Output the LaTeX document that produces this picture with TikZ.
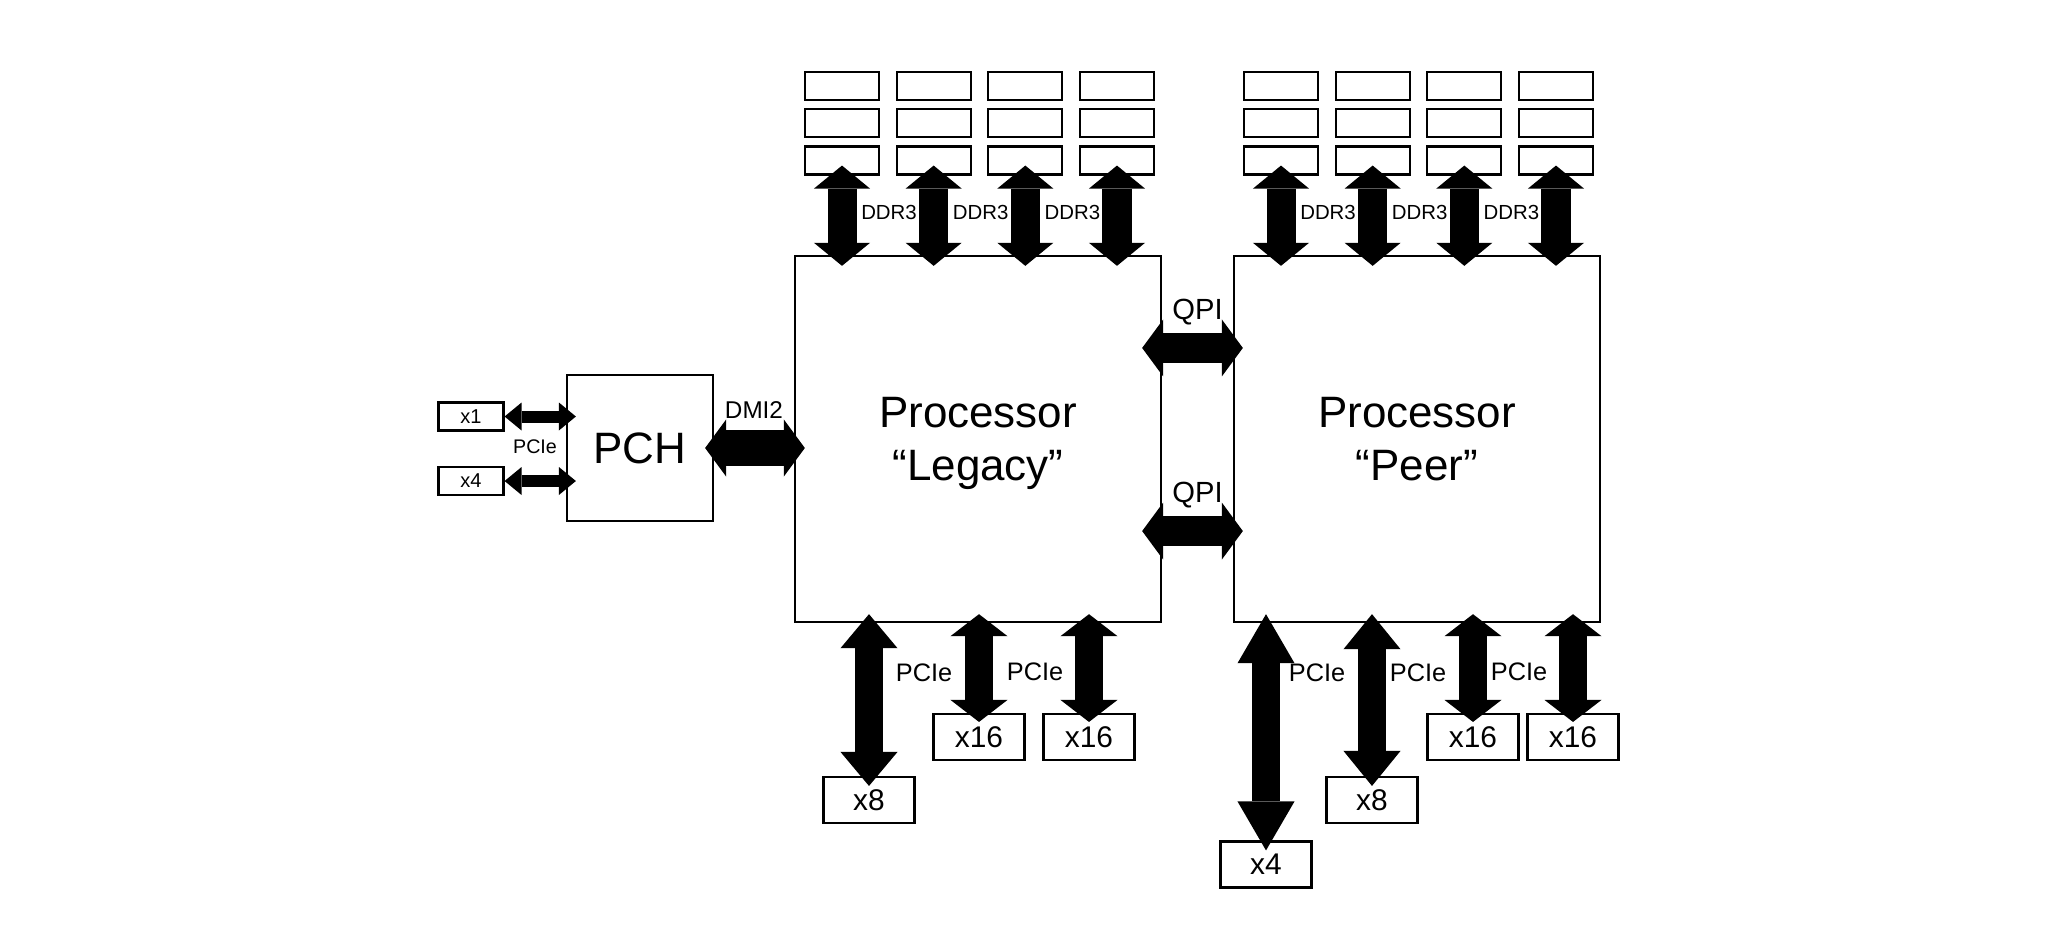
\documentclass[tikz,border=0pt]{standalone}
\usepackage{fontspec}
\setmainfont{Liberation Sans}
\usetikzlibrary{positioning,arrows.meta}

\begin{document}
\begin{tikzpicture}[x=0.01cm,y=-0.01cm,node distance=0.07cm]
  \useasboundingbox (0,0) rectangle (2048,951);
  \tikzset{
    processor/.style={rectangle,draw=black,line width=0.6pt,minimum width=3.66cm,minimum height=3.66cm,align=center,text depth=0pt,font=\fontsize{12.5}{15}\selectfont},
    hub/.style={rectangle,draw=black,line width=0.6pt,minimum width=1.46cm,minimum height=1.46cm,font=\fontsize{12.5}{15}\selectfont},
    dimm/.style={rectangle,draw=black,line width=0.6pt,minimum width=0.74cm,minimum height=0.28cm,inner sep=0pt},
    slot/.style={rectangle,draw=black,line width=0.6pt,minimum width=0.91cm,minimum height=0.46cm,inner sep=0pt,font=\fontsize{8.5}{10}\selectfont},
    smallSlot/.style={rectangle,draw=black,line width=0.6pt,minimum width=0.65cm,minimum height=0.28cm,inner sep=0pt,font=\fontsize{5.7}{7}\selectfont},
    colGap/.style={node distance=0.155cm},
    % link styles
    ddrBus/.style={line width=2.9mm,>={Triangle[length=2.3mm,width=5.6mm,line width=0pt]},<->,shorten <=-1mm,shorten >=-1.1mm},
    pcieBus/.style={line width=2.8mm,>={Triangle[length=#1,width=5.7mm,line width=0pt]},<->,shorten <=-0.9mm,shorten >=-1mm},
    hubBus/.style={line width=1.2mm,>={Triangle[length=1.7mm,width=2.8mm,line width=0pt]},<->,shorten >=-1mm},
    dmiBus/.style={line width=3.5mm,>={Triangle[length=2.1mm,width=5.7mm,line width=0pt]},<->,shorten <=-0.9mm,shorten >=-1.1mm},
    qpiBus/.style={line width=3mm,>={Triangle[length=2.1mm,width=5.7mm,line width=0pt]},<->,shorten <=-2mm,shorten >=-1mm},
    % label styles
    ddrLabel/.style={midway,xshift=0.47cm,yshift=0.03cm,font=\fontsize{5.8}{7}\selectfont},
    pcieLabel/.style={font=\fontsize{7.2}{9}\selectfont},
    qpiLabel/.style={midway,yshift=0.36cm,font=\fontsize{8.3}{10}\selectfont}
  }

  %% Processors and PCH
  \node [processor] (legacy) at (978,439) {Processor\\“Legacy”};
  \node [processor] (peer) at (1417,439) {Processor\\“Peer”};
  \node [hub] (pch) at (640,448) {PCH};

  %% Memory, legacy side
  \node [dimm] (ld1r1) at (842,160.5) {};
  \node [dimm] (ld1r2) [above=of ld1r1] {};
  \node [dimm] (ld1r3) [above=of ld1r2] {};
  \node [dimm, colGap] (ld2r1) [right=of ld1r1] {};
  \node [dimm] (ld2r2) [above=of ld2r1] {};
  \node [dimm] (ld2r3) [above=of ld2r2] {};
  \node [dimm, colGap] (ld3r1) [right=of ld2r1] {};
  \node [dimm] (ld3r2) [above=of ld3r1] {};
  \node [dimm] (ld3r3) [above=of ld3r2] {};
  \node [dimm, colGap] (ld4r1) [right=of ld3r1] {};
  \node [dimm] (ld4r2) [above=of ld4r1] {};
  \node [dimm] (ld4r3) [above=of ld4r2] {};

  \draw [ddrBus] (ld1r1.south) -- node[ddrLabel] {DDR3} (ld1r1.south |- legacy.north);
  \draw [ddrBus] (ld2r1.south) -- node[ddrLabel] {DDR3} (ld2r1.south |- legacy.north);
  \draw [ddrBus] (ld3r1.south) -- node[ddrLabel] {DDR3} (ld3r1.south |- legacy.north);
  \draw [ddrBus] (ld4r1.south) -- (ld4r1.south |- legacy.north);

  %% Memory, peer side
  \node [dimm] (pd1r1) at (1281,160.5) {};
  \node [dimm] (pd1r2) [above=of pd1r1] {};
  \node [dimm] (pd1r3) [above=of pd1r2] {};
  \node [dimm, colGap] (pd2r1) [right=of pd1r1] {};
  \node [dimm] (pd2r2) [above=of pd2r1] {};
  \node [dimm] (pd2r3) [above=of pd2r2] {};
  \node [dimm, colGap] (pd3r1) [right=of pd2r1] {};
  \node [dimm] (pd3r2) [above=of pd3r1] {};
  \node [dimm] (pd3r3) [above=of pd3r2] {};
  \node [dimm, colGap] (pd4r1) [right=of pd3r1] {};
  \node [dimm] (pd4r2) [above=of pd4r1] {};
  \node [dimm] (pd4r3) [above=of pd4r2] {};

  \draw [ddrBus] (pd1r1.south) -- node[ddrLabel] {DDR3} (pd1r1.south |- peer.north);
  \draw [ddrBus] (pd2r1.south) -- node[ddrLabel] {DDR3} (pd2r1.south |- peer.north);
  \draw [ddrBus] (pd3r1.south) -- node[ddrLabel] {DDR3} (pd3r1.south |- peer.north);
  \draw [ddrBus] (pd4r1.south) -- (pd4r1.south |- peer.north);

  %% QPI and DMI
  \draw [qpiBus] ([yshift=0.91cm]legacy.east) -- node[qpiLabel] {QPI} ([yshift=0.91cm]peer.west);
  \draw [qpiBus] ([yshift=-0.92cm]legacy.east) -- node[qpiLabel] {QPI} ([yshift=-0.92cm]peer.west);
  \draw [dmiBus] (pch.east) -- node[midway,yshift=0.38cm,font=\fontsize{6.9}{8}\selectfont] {DMI2} (pch.east -| legacy.west);

  %% PCH slots
  \node [smallSlot] (hx1) at (471,416.5) {x1};
  \node [smallSlot] (hx4) at (471,481) {x4};
  \draw [hubBus] (hx1.east) -- (hx1.east -| pch.west);
  \draw [hubBus] (hx4.east) -- (hx4.east -| pch.west);
  \node [font=\fontsize{5.6}{7}\selectfont] (hpcie) at (535,447) {PCIe};

  %% PCIe, legacy side
  \node [slot] (lx8) at (869,800) {x8};
  \node [slot] (lx16a) at (979,737) {x16};
  \node [slot] (lx16b) at (1089,737) {x16};
  \draw [pcieBus=3.4mm] (lx8.north |- legacy.south) -- (lx8.north);
  \draw [pcieBus=2.2mm,shorten >=-0.9mm] (lx16a.north |- legacy.south) -- (lx16a.north);
  \draw [pcieBus=2.2mm,shorten >=-0.9mm] (lx16b.north |- legacy.south) -- (lx16b.north);
  \node [pcieLabel] (lpcie1) at (924,673) {PCIe};
  \node [pcieLabel] (lpcie2) at (1035,672) {PCIe};

  %% PCIe, peer side
  \node [slot] (px4) at (1266,864.5) {x4};
  \node [slot] (px8) at (1372,800) {x8};
  \node [slot] (px16a) at (1473,737) {x16};
  \node [slot] (px16b) at (1573,737) {x16};
  \draw [pcieBus=4.9mm] (px4.north |- peer.south) -- (px4.north);
  \draw [pcieBus=3.5mm] (px8.north |- peer.south) -- (px8.north);
  \draw [pcieBus=2.2mm,shorten >=-0.9mm] (px16a.north |- peer.south) -- (px16a.north);
  \draw [pcieBus=2.2mm,shorten >=-0.9mm] (px16b.north |- peer.south) -- (px16b.north);
  \node [pcieLabel] (ppcie1) at (1317,673) {PCIe};
  \node [pcieLabel] (ppcie2) at (1418,673) {PCIe};
  \node [pcieLabel] (ppcie3) at (1519,672) {PCIe};

\end{tikzpicture}
\end{document}
